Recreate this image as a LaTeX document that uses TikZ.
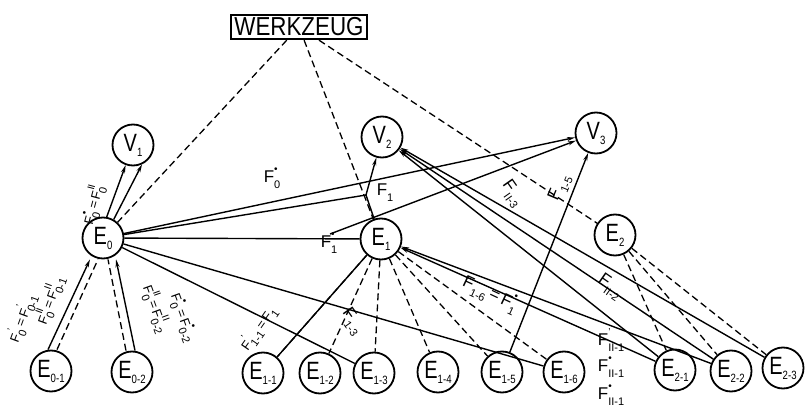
\documentclass[tikz,border=0pt]{standalone}
\usepackage{fontspec}
\usepackage{graphicx}
\setmainfont{Liberation Sans}
\usetikzlibrary{arrows.meta,calc}
\newcommand\Nd[2]{\scalebox{0.8}[1]{#1}\raisebox{-5pt}{\fontsize{12}{12}\selectfont\scalebox{0.8}[1]{#2}}}
\newcommand\Fl[2]{F\rlap{\raisebox{0.6em}{\fontsize{10}{10}\selectfont #1}}\raisebox{-0.35em}{\fontsize{11}{11}\selectfont #2}}
\begin{document}
\begin{tikzpicture}[x=1pt,y=-1pt,
  el/.style={circle,draw,line width=1.8pt,minimum size=41pt,inner sep=0pt,font=\fontsize{25}{26}\selectfont},
  flow/.style={line width=1.4pt,-{Stealth[length=8pt,width=4pt]}},
  sol/.style={line width=1.4pt},
  dsh/.style={line width=1.3pt,dash pattern=on 7pt off 4pt},
  lab/.style={font=\fontsize{17}{18}\selectfont,inner sep=0.5pt},
  slab/.style={font=\fontsize{13}{14}\selectfont,inner sep=0.5pt}]
\useasboundingbox (0,0) rectangle (806,409);
\node[draw,line width=2pt,inner sep=3pt,font=\fontsize{26}{27}\selectfont] (W) at (299,27) {\scalebox{0.86}[1]{WERKZEUG}};
\node[el] (V1) at (133,145) {\Nd{V}{1}};
\node[el] (V2) at (382,137) {\Nd{V}{2}};
\node[el] (V3) at (596,133) {\Nd{V}{3}};
\node[el] (E0) at (103,238) {\Nd{E}{0}};
\node[el] (E1) at (381,239) {\Nd{E}{1}};
\node[el] (E2) at (615,235) {\Nd{E}{2}};
\node[el] (E01) at (51,371) {\Nd{E}{0-1}};
\node[el] (E02) at (132,372) {\Nd{E}{0-2}};
\node[el] (E11) at (263,373) {\Nd{E}{1-1}};
\node[el] (E12) at (320,373) {\Nd{E}{1-2}};
\node[el] (E13) at (374,373) {\Nd{E}{1-3}};
\node[el] (E14) at (438,372) {\Nd{E}{1-4}};
\node[el] (E15) at (502,372) {\Nd{E}{1-5}};
\node[el] (E16) at (564,372) {\Nd{E}{1-6}};
\node[el] (E21) at (675,370) {\Nd{E}{2-1}};
\node[el] (E22) at (731,371) {\Nd{E}{2-2}};
\node[el] (E23) at (783,368) {\Nd{E}{2-3}};
% dashed tool lines
\draw[dsh] (W) -- (E0);
\draw[dsh] (W) -- (E1);
\draw[dsh] (W) -- (E2);
\draw[dsh] ([xshift=6pt]E01.north) -- ([xshift=-5pt]E0.south);
\draw[dsh] ([xshift=-6pt]E02.north) -- ([xshift=5pt]E0.south);
\foreach \e in {E11,E12,E13,E14,E15,E16} \draw[dsh] (E1) -- (\e);
\foreach \e in {E21,E22,E23} \draw[dsh] (E2) -- (\e);
% flows
\draw[flow] ([xshift=-3pt]E01.north) -- ([xshift=-13pt]E0.south);
\draw[flow] ([xshift=3pt]E02.north) -- ([xshift=13pt]E0.south);
\draw[flow] (E0.80) -- (V1.250);
\draw[flow] (E0.60) -- (V1.295);
\draw[flow] (E0) -- (V3);
\coordinate (J) at (366,195);
\draw[flow] (E0) -- (J) -- (V2);
\draw[sol] (E1) -- (J);
\coordinate (K) at (330,234);
\draw[sol] (E0) -- (E1);
\draw[flow] (K) -- (V3);
\draw[sol] (E11) -- (E1);
\draw[sol] (E0) -- (E13);
\draw[sol] (E0) -- (E16);
\draw[flow] (E15) -- (V3);
\foreach \e in {E21,E22,E23} \draw[flow] (\e) -- (V2);
\draw[flow] (E21) -- (E1);
\draw[flow] (E22) -- (E1);
% labels
\node[slab,rotate=75] (l0) at (93,205) {\Fl{•}{0}\,=\,\Fl{II}{0}};
\node[slab,rotate=70] (l01a) at (50,300) {\Fl{II}{0}\,=\,\Fl{II}{0-1}};
\node[slab,rotate=70] (l01b) at (22,318) {\Fl{'}{0}\,=\,\Fl{'}{0-1}};
\node[slab,rotate=-70] (l02a) at (156,309) {\Fl{II}{0}\,=\,\Fl{II}{0-2}};
\node[slab,rotate=-70] (l02b) at (183,318) {\Fl{•}{0}\,=\,\Fl{•}{0-2}};
\node[lab] (lF0) at (272,178) {\Fl{•}{0}};
\node[lab] (lF1) at (385,193) {\Fl{}{1}};
\node[lab] (lF1s) at (329,243) {\Fl{•}{1}};
\node[lab,rotate=67] (lF15) at (560,188) {\Fl{}{1-5}};
\node[lab,rotate=-55] (lFII3) at (512,194) {\Fl{}{II-3}};
\node[lab,rotate=-35] (lFII2) at (610,287) {\Fl{}{II-2}};
\node[lab] (lFII1a) at (611,340) {\Fl{'}{II-1}};
\node[lab] (lFII1b) at (611,367) {\Fl{•}{II-1}};
\node[lab] (lFII1c) at (611,395) {\Fl{\textbullet}{II-1}};
\node[lab,rotate=-25] (lF16) at (490,294) {\Fl{}{1-6}\,=\,\Fl{•}{1}};
\node[lab,rotate=-55] (lF13) at (352,322) {\Fl{}{1-3}};
\node[slab,rotate=55] (lF11) at (258,328) {\Fl{'}{1-1}\,=\,\Fl{}{1}};
\end{tikzpicture}
\end{document}
